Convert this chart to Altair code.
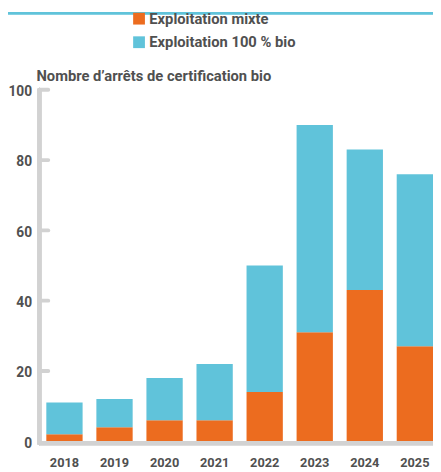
import altair as alt
import pandas as pd

years = ["2018", "2019", "2020", "2021", "2022", "2023", "2024", "2025"]
mixte = [2, 4, 6, 6, 14, 31, 43, 27]
bio100 = [9, 8, 12, 16, 36, 59, 40, 49]
series = ["Exploitation mixte", "Exploitation 100 % bio"]
colors = ["#EC6C1F", "#60C3DA"]
y_ticks = [0, 20, 40, 60, 80, 100]
title_text = ["Nombre d’arrêts de certification bio"]

FONT = "Roboto"
TXT = "#505050"
AX = "#d2d2d2"

rows = []
for i, yr in enumerate(years):
    rows.append({"year": yr, "serie": series[0], "value": mixte[i], "ord": 0})
    rows.append({"year": yr, "serie": series[1], "value": bio100[i], "ord": 1})
df = pd.DataFrame(rows)

yscale = alt.Scale(domain=[0, 100], nice=False)
yaxis = alt.Axis(title=None, values=y_ticks, domain=False, ticks=False,
                 grid=False, labelPadding=8, labelOffset=2, labelFont=FONT,
                 labelFontSize=14, labelFontWeight="bold", labelColor=TXT)

bars = alt.Chart(df).mark_bar().encode(
    x=alt.X("year:N", sort=years,
            scale=alt.Scale(paddingInner=0.275, paddingOuter=0.069, align=1),
            axis=alt.Axis(title=None, labelAngle=0, domain=False, ticks=False,
                          labelPadding=16, labelFont=FONT, labelFontSize=13,
                          labelFontWeight="bold", labelColor=TXT)),
    y=alt.Y("value:Q", stack="zero", scale=yscale, axis=yaxis),
    color=alt.Color("serie:N", scale=alt.Scale(domain=series, range=colors),
                    legend=alt.Legend(title=None, orient="none", legendX=94, legendY=-80,
                                      direction="vertical", symbolType="square",
                                      symbolSize=144, symbolStrokeWidth=0,
                                      symbolOpacity=1, labelFont=FONT,
                                      labelFontSize=15, labelFontWeight="bold",
                                      labelColor=TXT, rowPadding=8, labelOffset=3,
                                      labelLimit=400)),
    order=alt.Order("ord:Q"),
)

tick_df = pd.DataFrame({"value": y_ticks[1:]})
yticks = alt.Chart(tick_df).mark_rule(color=AX, strokeWidth=4, strokeCap="round").encode(
    y=alt.Y("value:Q", scale=yscale, axis=yaxis),
    x=alt.value(0), x2=alt.value(9),
)

yline = alt.Chart(tick_df).mark_rule(color=AX, strokeWidth=4, strokeCap="round").encode(
    x=alt.value(0), y=alt.value(0), y2=alt.value(360),
)

xline = alt.Chart(tick_df).mark_rule(color=AX, strokeWidth=4, strokeCap="round").encode(
    x=alt.value(0), x2=alt.value(401), y=alt.value(360),
)

strip = alt.Chart(tick_df).mark_rule(color="#60C3DA", strokeWidth=2).encode(
    x=alt.value(-32), x2=alt.value(401), y=alt.value(-78),
)

title = alt.Chart(pd.DataFrame({"t": title_text})).mark_text(
    align="left", baseline="alphabetic", font=FONT, fontSize=15,
    fontWeight="bold", color=TXT,
).encode(text="t:N", x=alt.value(-3), y=alt.value(-9))

chart = alt.layer(strip, bars, yticks, yline, xline, title).properties(
    width=401, height=358,
    autosize=alt.AutoSizeParams(type="none"),
    padding={"left": 32, "top": 79, "right": 0, "bottom": 27},
).configure_view(stroke=None)

chart.save("out.html", embed_options={"renderer": "svg", "actions": False})
